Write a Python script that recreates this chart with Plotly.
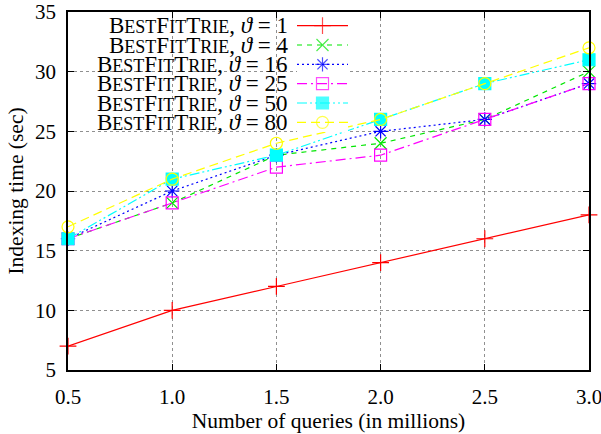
import plotly.graph_objects as go

# Number of queries (millions) and indexing time (sec) per threshold
queries = [0.5, 1.0, 1.5, 2.0, 2.5, 3.0]
theta_1 = [7, 10, 12, 14, 16, 18]
theta_4 = [16, 19, 23, 24, 26, 30]
theta_16 = [16, 20, 23, 25, 26, 29]
theta_25 = [16, 19, 22, 23, 26, 29]
theta_50 = [16, 21, 23, 26, 29, 31]
theta_80 = [17, 21, 24, 26, 29, 32]
thetas = ["1", "4", "16", "25", "50", "80"]
x_ticks = ["0.5", "1.0", "1.5", "2.0", "2.5", "3.0"]
y_ticks = [5, 10, 15, 20, 25, 30, 35]

FONT = "Liberation Serif"
TICK_FONT = dict(family=FONT, size=21, color="black")
TITLE_FONT = dict(family=FONT, size=21.5, color="black")
KEY_FONT = dict(family=FONT, size=23, color="black")

styles = [
    dict(color="#ff0000", dash="solid", symbol="cross-thin-open"),
    dict(color="#00e600", dash="5px,5px", symbol="x-thin-open"),
    dict(color="#0000ff", dash="2px,3px", symbol="asterisk-open"),
    dict(color="#ff00ff", dash="10px,4px,2px,4px", symbol="square-open"),
    dict(color="#00ffff", dash="10px,3px,2px,3px,2px,3px", symbol="square"),
    dict(color="#ffff00", dash="9px,5px", symbol="circle-open"),
]
series = [theta_1, theta_4, theta_16, theta_25, theta_50, theta_80]


def small_caps(word_parts):
    out = ""
    for p in word_parts:
        out += p[0] + "<span style='font-size:18px'>" + p[1:].upper() + "</span>"
    return out


name_base = small_caps(["Best", "Fit", "Trie"])

fig = go.Figure()

for ys, st in zip(series, styles):
    fig.add_trace(go.Scatter(
        x=queries, y=ys, mode="lines+markers",
        line=dict(color=st["color"], width=1.2, dash=st["dash"]),
        marker=dict(symbol=st["symbol"], size=12, color=st["color"],
                    line=dict(color=st["color"], width=1.2)),
        showlegend=False, cliponaxis=False,
    ))

# Key: line samples on a helper axis, labels right-aligned to their left
for i, (st, th) in enumerate(zip(styles, thetas)):
    row = 5.5 - i
    fig.add_trace(go.Scatter(
        x=[0, 0.5, 1], y=[row, row, row], mode="lines+markers",
        line=dict(color=st["color"], width=1.2, dash=st["dash"]),
        marker=dict(symbol=st["symbol"], size=[0, 12, 0], color=st["color"],
                    line=dict(color=st["color"], width=1.2)),
        xaxis="x2", yaxis="y2", showlegend=False, hoverinfo="skip",
    ))
    fig.add_annotation(
        x=0, y=row, xref="x2", yref="y2", xanchor="right", yanchor="middle",
        xshift=-7, showarrow=False,
        text=name_base + ", <i>ϑ</i> = " + th,
        font=KEY_FONT,
    )

L, R, T, B = 68, 12, 12, 64
W, H = 601, 434
pw, ph = W - L - R, H - T - B

fig.update_layout(
    template="none",
    width=W, height=H,
    margin=dict(l=L, r=R, t=T, b=B),
    paper_bgcolor="white", plot_bgcolor="white",
    font=dict(family=FONT, size=20, color="black"),
    xaxis=dict(
        range=[0.5, 3.0], tickvals=queries, ticktext=x_ticks,
        tickfont=TICK_FONT, ticklabeloverflow="allow", ticklabelstandoff=7,
        showgrid=True, gridcolor="#909090", griddash="dot", gridwidth=1,
        showline=True, linecolor="black", linewidth=1.5, mirror="ticks",
        ticks="inside", ticklen=6, tickcolor="black", tickwidth=1,
        zeroline=False, automargin=False,
        title=dict(text="Number of queries (in millions)", font=TITLE_FONT, standoff=5),
    ),
    yaxis=dict(
        range=[5, 35], tickvals=y_ticks,
        tickfont=TICK_FONT, ticklabeloverflow="allow", ticklabelstandoff=6,
        showgrid=True, gridcolor="#909090", griddash="dot", gridwidth=1,
        showline=True, linecolor="black", linewidth=1.5, mirror="ticks",
        ticks="inside", ticklen=6, tickcolor="black", tickwidth=1,
        zeroline=False, automargin=False,
        title=dict(text="Indexing time (sec)", font=TITLE_FONT, standoff=6),
    ),
    xaxis2=dict(domain=[(297 - L) / pw, (348 - L) / pw], range=[0, 1],
                visible=False, anchor="y2"),
    yaxis2=dict(domain=[(370 - 132) / ph, (370 - 16) / ph], range=[0, 6],
                visible=False, anchor="x2"),
)

fig.write_html("out.html")
